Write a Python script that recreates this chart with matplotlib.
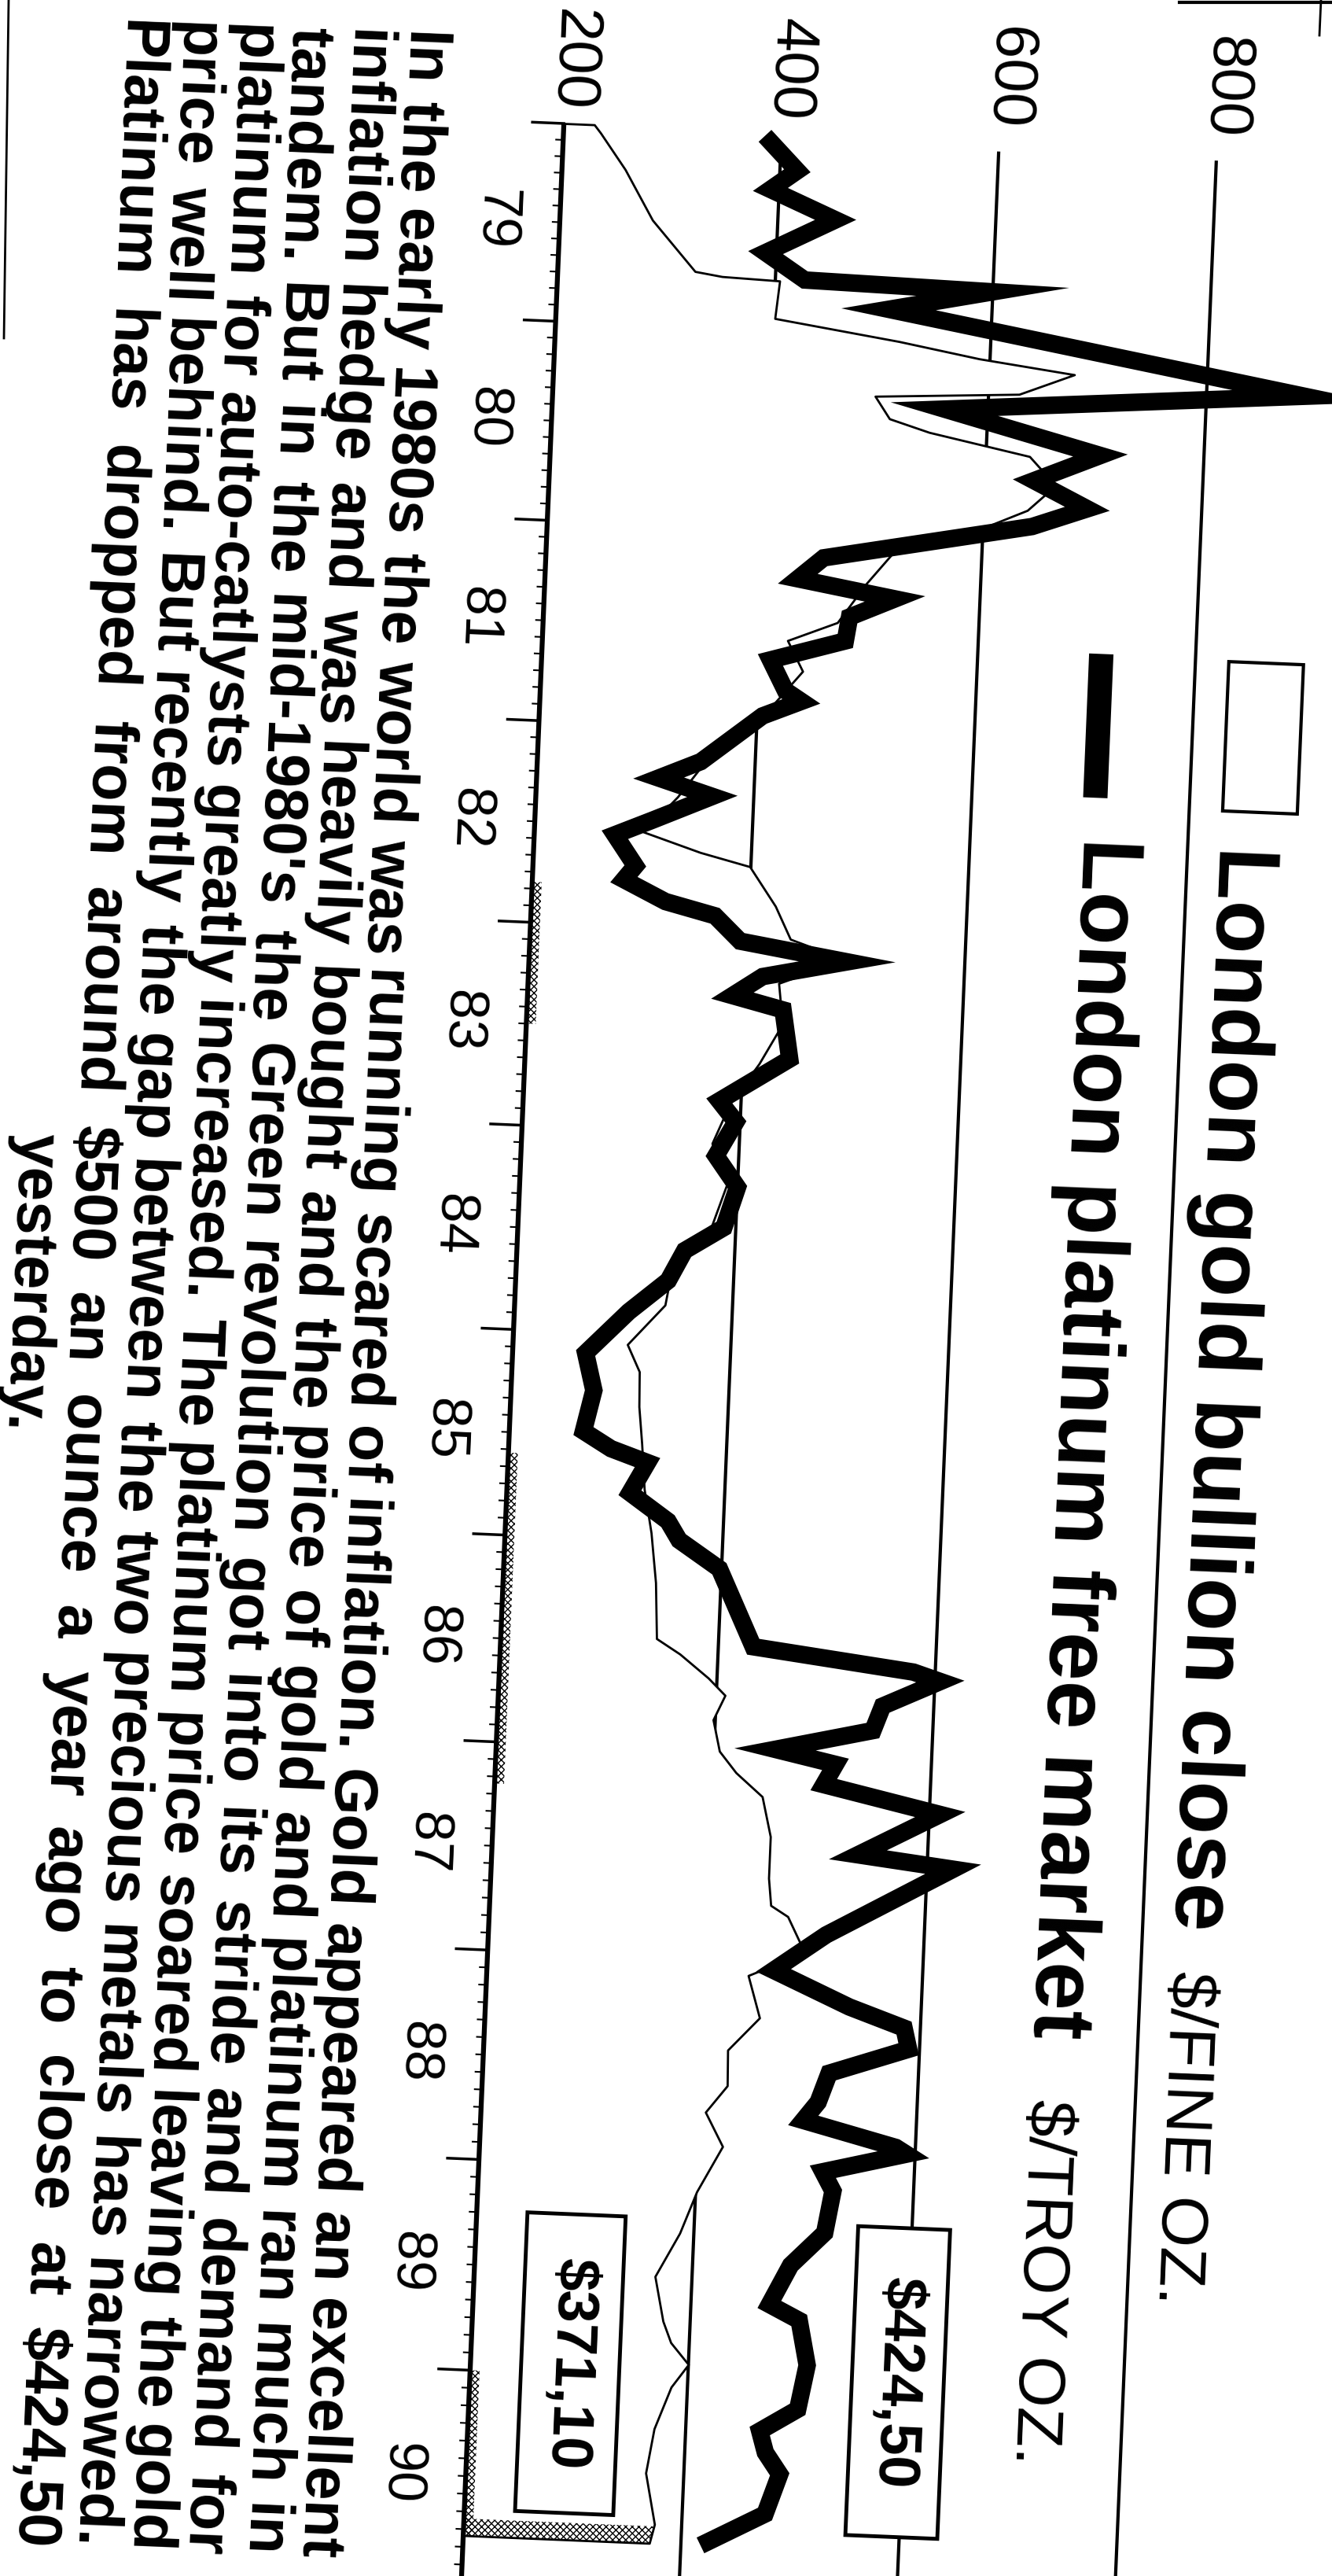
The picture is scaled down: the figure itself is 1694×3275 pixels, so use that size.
import numpy as np
import matplotlib
matplotlib.use("Agg")
import matplotlib.pyplot as plt
from matplotlib import font_manager as fm
from matplotlib.transforms import Affine2D
from matplotlib.patches import Rectangle
from matplotlib.artist import Artist
from matplotlib.lines import Line2D
from matplotlib.text import Text

# ---------------- data ----------------
plat_years = [1979.02, 1979.19, 1979.29, 1979.43, 1979.61, 1979.74, 1979.76, 1979.87,
              1980.22, 1980.36, 1980.56, 1980.70, 1980.83, 1980.93, 1981.13, 1981.24,
              1981.32, 1981.42, 1981.54, 1981.65, 1981.80, 1981.85, 1981.93, 1982.17,
              1982.26, 1982.34, 1982.47, 1982.55, 1982.70, 1982.77, 1982.87, 1982.93,
              1983.05, 1983.13, 1983.22, 1983.32, 1983.38, 1983.62, 1983.84, 1983.94,
              1984.11, 1984.26, 1984.46, 1984.58, 1984.73, 1984.89, 1985.10, 1985.28,
              1985.48, 1985.56, 1985.62, 1985.77, 1985.90, 1985.99, 1986.12, 1986.49,
              1986.58, 1986.62, 1986.75, 1986.87, 1986.98, 1987.04, 1987.14, 1987.26,
              1987.47, 1987.52, 1987.86, 1988.04, 1988.20, 1988.29, 1988.39, 1988.52,
              1988.66, 1988.75, 1988.86, 1988.89, 1988.99, 1989.08, 1989.28, 1989.44,
              1989.63, 1989.70, 1989.91, 1990.12, 1990.23, 1990.33, 1990.43, 1990.62,
              1990.78]
plat_values = [385, 416, 392, 453, 390, 427, 600, 505,
               890, 560, 705, 645, 695, 645, 455, 432,
               522, 481, 478, 410, 425, 440, 405, 350,
               312, 362, 308, 274, 294, 284, 323, 369,
               393, 492, 415, 388, 435, 443, 380, 396,
               379, 400, 389, 354, 340, 305, 267, 276,
               268, 294, 328, 313, 349, 360, 398, 432,
               580, 605, 553, 545, 456, 512, 502, 610,
               536, 624, 510, 463, 534, 585, 590, 518,
               509, 496, 582, 592, 516, 526, 520, 490,
               472, 500, 509, 502, 468, 474, 488, 476,
               418]

gold_years = [1979.00, 1979.04, 1979.22, 1979.47, 1979.72, 1979.74, 1979.75, 1979.94,
              1980.03, 1980.10, 1980.16, 1980.27, 1980.31, 1980.42, 1980.48, 1980.58,
              1980.72, 1980.85, 1980.96, 1981.08, 1981.25, 1981.45, 1981.55, 1981.70,
              1981.90, 1982.05, 1982.20, 1982.35, 1982.53, 1982.62, 1982.68, 1982.87,
              1983.03, 1983.12, 1983.25, 1983.45, 1983.65, 1983.85, 1984.05, 1984.25,
              1984.45, 1984.60, 1984.85, 1985.05, 1985.18, 1985.35, 1985.53, 1985.75,
              1985.96, 1986.20, 1986.47, 1986.54, 1986.65, 1986.73, 1986.85, 1987.00,
              1987.10, 1987.21, 1987.40, 1987.60, 1987.73, 1987.78, 1987.95, 1988.07,
              1988.27, 1988.43, 1988.60, 1988.73, 1988.89, 1989.11, 1989.31, 1989.52,
              1989.73, 1989.83, 1989.93, 1990.04, 1990.24, 1990.45, 1990.69, 1990.78]
gold_values = [228, 234, 258, 285, 326, 351, 404, 401,
               516, 590, 678, 628, 496, 510, 547, 640,
               665, 640, 595, 520, 495, 470, 425, 440,
               410, 380, 350, 330, 300, 353, 399, 424,
               439, 490, 430, 435, 415, 390, 375, 390,
               378, 345, 338, 305, 317, 318, 322, 326,
               334, 340, 343, 365, 392, 408, 398, 405,
               421, 446, 455, 455, 458, 474, 491, 440,
               452, 424, 425, 406, 423, 401, 387, 366,
               375, 383, 400, 385, 371, 365, 375, 371]

value_ticks = [200, 400, 600, 800]
year_bounds = list(range(1979, 1991))
year_labels = ["79", "80", "81", "82", "83", "84", "85", "86", "87", "88", "89", "90"]

title_gold = "London gold bullion close"
unit_gold = "$/FINE OZ."
title_plat = "London platinum free market"
unit_plat = "$/TROY OZ."
plat_close_label = "$424,50"
gold_close_label = "$371,10"
paragraph_lines = [
    "In the early 1980s the world was running scared of inflation. Gold appeared an excellent",
    "inflation hedge and was heavily bought and the price of gold and platinum ran much in",
    "tandem. But in the mid-1980's the Green revolution got into its stride and demand for",
    "platinum for auto-catlysts greatly increased. The platinum price soared leaving the gold",
    "price well behind. But recently the gap between the two precious metals has narrowed.",
    "Platinum has dropped from around $500 an ounce a year ago to close at $424,50",
]
last_line = "yesterday."
hatch_spans = [(1982.8, 1983.5), (1985.6, 1987.2), (1990.0, 1990.78)]

# ---------------- figure & geometry (unrotated pixel layout) ----------------
W, H, DPI = 1694, 3275, 100
TILT = -2.39                      # whole scanned page is slightly rotated
fig = plt.figure(figsize=(W / DPI, H / DPI), dpi=DPI)
fig.patch.set_facecolor("white")
ROT = Affine2D().rotate_deg_around(W / 2, H / 2, TILT)

names = {f.name for f in fm.fontManager.ttflist}
if "Liberation Sans Narrow" in names:
    FAM = "Liberation Sans Narrow"
elif "Liberation Sans" in names:
    FAM = "Liberation Sans"
else:
    FAM = "DejaVu Sans"

def fx(x):
    return x / W

def fy(y):
    return 1 - y / H

X200 = 655.5          # pixel x of the $200 baseline
PXD = 1.385           # pixels per dollar
XMIN, XMAX = 200, 900
Y_TOP = 163.7         # pixel y of 1979.0
A1, A2 = 250.8, 0.827 # slightly stretched time scale (as on the scan)

def fwd(t):
    u = np.asarray(t, dtype=float) - 1979.0
    return A1 * u + A2 * u * u

def inv(z):
    z = np.asarray(z, dtype=float)
    return 1979.0 + (-A1 + np.sqrt(np.maximum(A1 * A1 + 4 * A2 * z, 0.0))) / (2 * A2)

ax_h = float(fwd(1991.0))
ax_w = (XMAX - XMIN) * PXD
ax = fig.add_axes([fx(X200), fy(Y_TOP + ax_h), ax_w / W, ax_h / H])
ax.set_yscale("function", functions=(fwd, inv))
ax.set_xlim(XMIN, XMAX)
ax.set_ylim(1991.0, 1979.0)
ax.axis("off")

tilted = []

# grid lines
for v in value_ticks[1:]:
    ln, = ax.plot([v, v], [1979.05, 1991.0], color="black", lw=3.0, zorder=1,
                  solid_capstyle="butt")
    tilted.append(ln)

# gold area (white, outlined) hides the grid lines below it
gfill = ax.fill_betweenx(gold_years, XMIN, gold_values, facecolor="white",
                         edgecolor="black", linewidth=2.0, zorder=2)
tilted.append(gfill)

# stippled bits of the gold tint along the base line
for a, b in hatch_spans:
    h = ax.fill_betweenx([a, b], XMIN, XMIN + 12 / PXD, facecolor="none",
                         edgecolor="black", linewidth=0, hatch="xxxx", zorder=2.5)
    tilted.append(h)
ge = np.interp([1990.70, 1990.78], gold_years, gold_values)
h = ax.fill_betweenx([1990.70, 1990.78], XMIN, ge, facecolor="none",
                     edgecolor="black", linewidth=0, hatch="xxxx", zorder=2.5)
tilted.append(h)

# base line and year ticks
ln, = ax.plot([XMIN, XMIN], [1979.0, 1991.0], color="black", lw=4.5, zorder=3,
              solid_capstyle="butt")
tilted.append(ln)
for yr in year_bounds:
    ln, = ax.plot([XMIN - 40 / PXD, XMIN], [yr, yr], color="black", lw=2.5, zorder=3)
    tilted.append(ln)
for yr in year_bounds:
    for m in range(1, 12):
        t = yr + m / 12.0
        ln, = ax.plot([XMIN - 9 / PXD, XMIN], [t, t], color="black", lw=1.5, zorder=3)
        tilted.append(ln)

# platinum line
pl, = ax.plot(plat_values, plat_years, color="black", lw=16, zorder=4,
              solid_joinstyle="miter", solid_capstyle="butt")
tilted.append(pl)

# ---------------- text helpers ----------------
renderer = fig.canvas.get_renderer()

def text_w(s, size, weight="normal"):
    t = fig.text(0, 0, s, fontsize=size, fontweight=weight, family=FAM)
    w = t.get_window_extent(renderer=renderer).width
    t.remove()
    return w

def fit(s, target, weight, hi):
    return float(min(hi, 100.0 * target / text_w(s, 100, weight)))

def vtext(xu, yu, s, size, weight="normal", ha="left", va="baseline"):
    t = fig.text(fx(xu), fy(yu), s, fontsize=size, fontweight=weight, family=FAM,
                 rotation=270, rotation_mode="anchor", ha=ha, va=va, zorder=6)
    tilted.append(t)
    return t

# value labels along the top
vsize = fit("200", 130, "normal", 70)
for v in value_ticks:
    t = ax.text(v - 13 / PXD, float(inv(-16.7)), str(v), fontsize=vsize, family=FAM,
                rotation=270, rotation_mode="anchor", ha="right", va="baseline")
    tilted.append(t)

# year labels
ysize = fit("79", 78, "normal", 64)
for yr, lab in zip(year_bounds, year_labels):
    t = ax.text(XMIN - 102 / PXD, yr + 0.5, lab, fontsize=ysize, family=FAM,
                rotation=270, rotation_mode="anchor", ha="center", va="baseline")
    tilted.append(t)

# legend marks
r = Rectangle((fx(1529), fy(1002)), (1624 - 1529) / W, (1002 - 812) / H,
              transform=fig.transFigure, facecolor="white", edgecolor="black",
              linewidth=3, zorder=5)
fig.add_artist(r)
tilted.append(r)
r = Rectangle((fx(1351), fy(992)), (1382 - 1351) / W, (992 - 809) / H,
              transform=fig.transFigure, facecolor="black", edgecolor="black",
              linewidth=0, zorder=5)
fig.add_artist(r)
tilted.append(r)

# titles
tsize_g = fit(title_gold, 1380, "bold", 100)
tsize_p = fit(title_plat, 1558, "bold", 100)
tsize = min(tsize_g, tsize_p)
usize = min(fit(unit_gold, 455, "normal", 75), fit(unit_plat, 465, "normal", 75))
vtext(1527, 1046, title_gold, tsize, "bold")
vtext(1527, 2478, unit_gold, usize)
vtext(1354, 1042, title_plat, tsize, "bold")
vtext(1354, 2648, unit_plat, usize)

# closing price boxes
bsize = fit(plat_close_label, 269, "bold", 66)
for (x0, x1, y0, y1, lab) in [(1141, 1258, 2819, 3212, plat_close_label),
                              (720, 845, 2819, 3199, gold_close_label)]:
    r = Rectangle((fx(x0), fy(y1)), (x1 - x0) / W, (y1 - y0) / H,
                  transform=fig.transFigure, facecolor="white", edgecolor="black",
                  linewidth=3.5, zorder=5)
    fig.add_artist(r)
    tilted.append(r)
    vtext((x0 + x1) / 2, (y0 + y1) / 2, lab, bsize, "bold", ha="center", va="center")

# justified paragraph
PARA_X = [450, 378, 306, 234, 162, 90]
PY0, PY1 = 55, 3272
L = PY1 - PY0
REF = 50
sp = text_w("n n", REF, "bold") - text_w("nn", REF, "bold")
widths, cand = [], []
for line in paragraph_lines:
    ws = [text_w(w, REF, "bold") for w in line.split()]
    widths.append(ws)
    cand.append(REF * L / (sum(ws) + 0.8 * sp * (len(ws) - 1)))
psize = min(56.0, min(cand))
k = psize / REF
for line, xb, ws in zip(paragraph_lines, PARA_X, widths):
    words = line.split()
    ws = [w * k for w in ws]
    gap = (L - sum(ws)) / (len(words) - 1)
    y = PY0
    for w, wd in zip(words, ws):
        vtext(xb, y, w, psize, "bold")
        y += wd + gap
vtext(18, (PY0 + PY1) / 2, last_line, psize, "bold", ha="center")

# ---------------- tilt everything like the scanned page ----------------
for a in tilted:
    a.set_transform(Artist.get_transform(a) + ROT)
    a.set_clip_on(False)
    if isinstance(a, Text):
        a.set_rotation(a.get_rotation() + TILT)

# edges of the newspaper clipping
fig.add_artist(Line2D([fx(11), fx(5)], [fy(0), fy(430)], transform=fig.transFigure,
                      color="black", lw=2))
fig.add_artist(Line2D([fx(1500), fx(1694)], [fy(3), fy(3)], transform=fig.transFigure,
                      color="black", lw=3))
fig.add_artist(Line2D([fx(1680), fx(1678)], [fy(0), fy(45)], transform=fig.transFigure,
                      color="black", lw=2))

fig.savefig("out.png", dpi=DPI, facecolor="white")
